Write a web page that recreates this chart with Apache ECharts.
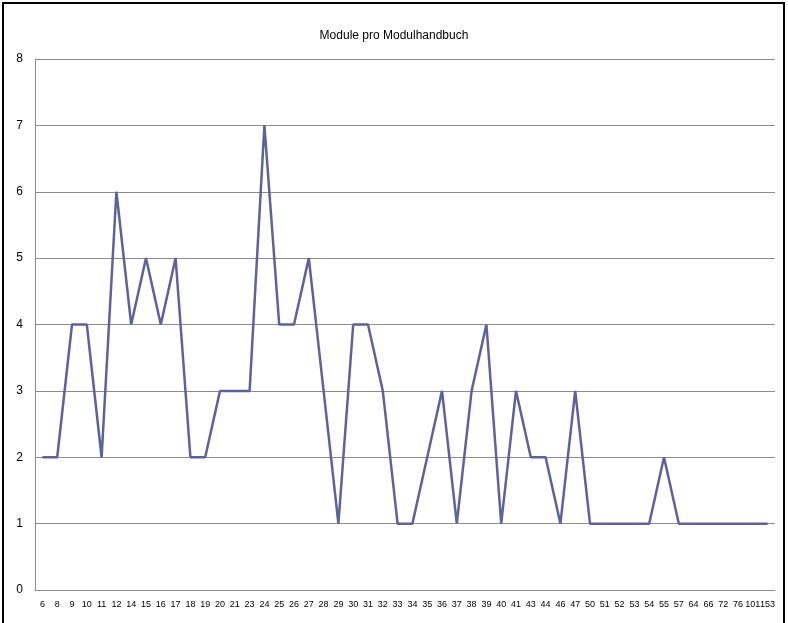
<!DOCTYPE html>
<html>
<head>
<meta charset="utf-8">
<script src="https://cdn.jsdelivr.net/npm/echarts@6/dist/echarts.min.js"></script>
<style>
    html, body { margin: 0; padding: 0; background: #fff; }
    #chart { width: 788px; height: 623px; }
</style>
</head>
<body>
<div id="chart"></div>
<script>
    const categories = ['6', '8', '9', '10', '11', '12', '14', '15', '16', '17', '18', '19', '20', '21', '23', '24', '25', '26', '27', '28',
        '29', '30', '31', '32', '33', '34', '35', '36', '37', '38', '39', '40', '41', '43', '44', '46', '47', '50', '51', '52',
        '53', '54', '55', '57', '64', '66', '72', '76', '101', '153']
    const moduleCounts = [2, 2, 4, 4, 2, 6, 4, 5, 4, 5, 2, 2, 3, 3, 3, 7, 4, 4, 5, 3,
        1, 4, 4, 3, 1, 1, 2, 3, 1, 3, 4, 1, 3, 2, 2, 1, 3, 1, 1, 1,
        1, 1, 2, 1, 1, 1, 1, 1, 1, 1]
    const yTicks = [0, 1, 2, 3, 4, 5, 6, 7, 8]

    const font = '"Liberation Sans Narrow", "Arial Narrow", "Liberation Sans", sans-serif'
    const chart = echarts.init(document.getElementById('chart'))

    chart.setOption({
        animation: false,
        title: {
            text: 'Module pro Modulhandbuch',
            left: 'center',
            top: 25,
            textStyle: { fontFamily: font, fontSize: 12, fontWeight: 'normal', color: '#000' }
        },
        graphic: [{
            type: 'rect',
            shape: { x: 3, y: 3, width: 781, height: 640 },
            style: { fill: 'none', stroke: '#000', lineWidth: 2 },
            silent: true
        }],
        grid: { left: 35, right: 13, top: 59, bottom: 33 },
        xAxis: {
            type: 'category',
            data: categories,
            boundaryGap: true,
            axisTick: { show: false },
            axisLine: { lineStyle: { color: '#8c8c8c', width: 1 } },
            axisLabel: { interval: 0, fontFamily: font, fontSize: 9, color: '#000', margin: 10 }
        },
        yAxis: {
            type: 'value',
            min: yTicks[0],
            max: yTicks[yTicks.length - 1],
            interval: 1,
            axisTick: { show: false },
            axisLine: { show: true, lineStyle: { color: '#8c8c8c', width: 1 } },
            axisLabel: { fontFamily: font, fontSize: 12, color: '#000', margin: 12 },
            splitLine: { lineStyle: { color: '#8c8c8c', width: 1 } }
        },
        series: [{
            name: 'Module',
            type: 'line',
            data: moduleCounts,
            symbol: 'none',
            lineStyle: { color: '#5f6199', width: 2.5 }
        }]
    })
</script>
</body>
</html>
